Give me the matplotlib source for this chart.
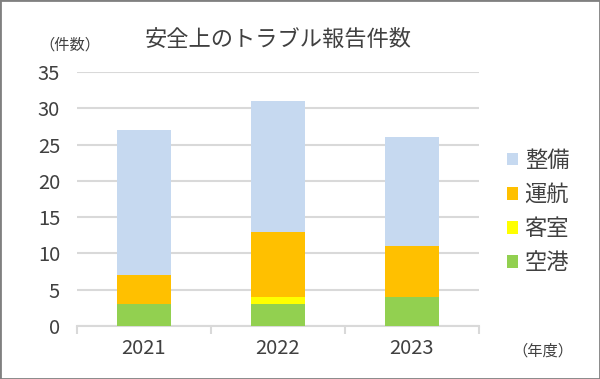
import matplotlib.pyplot as plt
import numpy as np
from matplotlib.patches import Rectangle

plt.rcParams['font.family'] = ['Noto Sans CJK JP', 'DejaVu Sans']

years = ['2021', '2022', '2023']
airport = [3, 3, 4]      # 空港
cabin = [0, 1, 0]        # 客室
flight = [4, 9, 7]       # 運航
maint = [20, 18, 15]     # 整備

series = [('空港', airport, '#92D050'),
          ('客室', cabin, '#FFFF00'),
          ('運航', flight, '#FFC000'),
          ('整備', maint, '#C6D9F0')]

text_color = '#404040'

fig = plt.figure(figsize=(6, 3.79), dpi=100)
ax = fig.add_axes([0.128, 0.14, 0.67, 0.67])

x = np.arange(len(years))
bottom = np.zeros(len(years))
handles = []
for name, vals, color in series:
    b = ax.bar(x, vals, 0.4, bottom=bottom, color=color, label=name, zorder=3)
    handles.append(b)
    bottom += np.array(vals)

ax.set_ylim(0, 35)
ax.set_xlim(-0.5, 2.5)
ax.set_yticks(range(0, 36, 5))
ax.yaxis.grid(True, color='#D9D9D9', linewidth=1.5, zorder=0)
ax.set_axisbelow(True)
for s in ['left', 'right', 'top']:
    ax.spines[s].set_visible(False)
ax.spines['bottom'].set_color('#D9D9D9')
ax.spines['bottom'].set_linewidth(1.5)

ax.set_xticks(x)
ax.set_xticklabels(years)
ax.set_xticks([-0.5, 0.5, 1.5, 2.5], minor=True)
ax.tick_params(axis='x', which='major', length=0, labelsize=14.5, colors=text_color, pad=9)
ax.tick_params(axis='x', which='minor', length=6, width=1.5, color='#D9D9D9')
ax.tick_params(axis='y', length=0, labelsize=14.5, colors=text_color, pad=12)

leg = ax.legend(handles[::-1], [s[0] for s in series][::-1], loc='center left',
                bbox_to_anchor=(1.02, 0.45), frameon=False, fontsize=16,
                handlelength=0.5, handleheight=0.5, handletextpad=0.3,
                labelspacing=0.5, labelcolor=text_color)

fig.text(0.463, 0.895, '安全上のトラブル報告件数', fontsize=16, color=text_color,
         ha='center', va='center')
fig.text(0.117, 0.882, '（件数）', fontsize=11, color=text_color, ha='center', va='center')
fig.text(0.905, 0.075, '（年度）', fontsize=11, color=text_color, ha='center', va='center')

fig.patches.append(Rectangle((0, 0), 1, 1, transform=fig.transFigure, fill=False,
                             edgecolor='#808080', linewidth=2))

fig.savefig('out.png', dpi=100)
